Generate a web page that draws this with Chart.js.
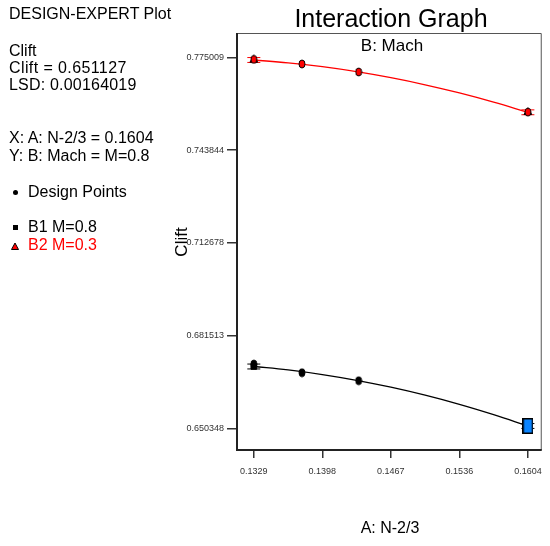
<!DOCTYPE html>
<html><head><meta charset="utf-8">
<script src="https://cdn.jsdelivr.net/npm/chart.js@4.4.0/dist/chart.umd.min.js"></script>
<style>
html,body{margin:0;padding:0;background:#fff;}
#wrap{position:relative;width:550px;height:546px;overflow:hidden;font-family:'Liberation Sans',Arial,sans-serif;color:#000;}
#c{position:absolute;left:0;top:0;}
.t{position:absolute;white-space:nowrap;line-height:1;font-size:16px;}
.ctr{transform:translateX(-50%);}
.sym{position:absolute;}
</style></head><body>
<div id="wrap">
<canvas id="c" width="550" height="546"></canvas>
<div class="t" style="left:9px;top:6px;">DESIGN-EXPERT Plot</div>
<div class="t" style="left:9px;top:42.5px;">Clift</div>
<div class="t" style="left:9px;top:59.5px;letter-spacing:0.4px;">Clift = 0.651127</div>
<div class="t" style="left:9px;top:76.5px;letter-spacing:0.2px;">LSD: 0.00164019</div>
<div class="t" style="left:9px;top:130px;">X: A: N-2/3 = 0.1604</div>
<div class="t" style="left:9px;top:147.5px;">Y: B: Mach = M=0.8</div>
<span class="sym" style="left:13px;top:190px;width:5px;height:5px;border-radius:50%;background:#000;"></span>
<div class="t" style="left:28px;top:184px;">Design Points</div>
<span class="sym" style="left:12.5px;top:225px;width:5px;height:5px;background:#000;"></span>
<div class="t" style="left:28px;top:219px;">B1 M=0.8</div>
<svg class="sym" style="left:11px;top:242px;" width="8" height="8"><polygon points="4,1 7.5,7.5 0.5,7.5" fill="#ff0000" stroke="#000" stroke-width="1"/></svg>
<div class="t" style="left:28px;top:237px;color:#ff0000;">B2 M=0.3</div>
<div class="t ctr" style="left:391px;top:5.5px;font-size:25px;">Interaction Graph</div>
<div class="t ctr" style="left:392px;top:36.5px;font-size:17px;">B: Mach</div>
<div class="t ctr" style="left:390px;top:520px;font-size:16px;">A: N-2/3</div>
<div class="t" style="left:181px;top:242px;font-size:17px;transform:translate(-50%,-50%) rotate(-90deg);">Clift</div>
</div>
<script>
// ---- data ----
// fitted model curves, read at several A positions
const fitA  = [0.1329, 0.13634, 0.13978, 0.14321, 0.14665, 0.15009, 0.15353, 0.15696, 0.1604];
const fitB1 = [0.671113, 0.669947, 0.668398, 0.666466, 0.664148, 0.661460, 0.658379, 0.654918, 0.651127];
const fitB2 = [0.774101, 0.773153, 0.771846, 0.770176, 0.768153, 0.765781, 0.763042, 0.759948, 0.756527];
// design points
const designA  = [0.1329, 0.13773, 0.14342, 0.1604];
const designB1 = [0.67195, 0.66903, 0.66634, 0.651127];
const designB2 = [0.77430, 0.77276, 0.77008, 0.75660];
const lsdValue = 0.00164019;
const currentA = 0.1604;
const currentClift = 0.651127;
const xTickValues = [0.1329, 0.139775, 0.14665, 0.153525, 0.1604];
const xTickLabels = ['0.1329', '0.1398', '0.1467', '0.1536', '0.1604'];
const yTickValues = [0.650348, 0.681513, 0.712678, 0.743844, 0.775009];
const yTickLabels = ['0.650348', '0.681513', '0.712678', '0.743844', '0.775009'];

// ---- marker images ----
function ellipseImg(w, h, fill) {
  const c = document.createElement('canvas');
  c.width = w + 2; c.height = h + 2;
  const g = c.getContext('2d');
  g.beginPath();
  g.ellipse((w + 2) / 2, (h + 2) / 2, w / 2, h / 2, 0, 0, Math.PI * 2);
  g.fillStyle = fill; g.fill();
  g.lineWidth = 1; g.strokeStyle = '#000'; g.stroke();
  return c;
}
function rectImg(w, h, fill) {
  const c = document.createElement('canvas');
  c.width = w; c.height = h;
  const g = c.getContext('2d');
  g.fillStyle = fill; g.fillRect(0, 0, w, h);
  g.lineWidth = 1.5; g.strokeStyle = '#000'; g.strokeRect(0.75, 0.75, w - 1.5, h - 1.5);
  return c;
}
const redDot = ellipseImg(6, 8, '#ff0000');
const blackDot = ellipseImg(6, 8, '#000000');
const blueSq = rectImg(11, 16, '#0a84ff');

const curve = ys => fitA.map((x, i) => ({ x, y: ys[i] }));
const dpts = (ys, idx) => idx.map(i => ({ x: designA[i], y: ys[i] }));
const endIdx = [0, fitA.length - 1];
const lsdPts = (ys, sign) => endIdx.map(i => ({ x: fitA[i], y: ys[i] + sign * lsdValue / 2 }));
const endPts = (ys, idx) => idx.map(i => ({ x: fitA[i], y: ys[i] }));

const boxPlugin = {
  id: 'box',
  afterDraw(chart) {
    const { ctx, chartArea: a } = chart;
    ctx.save();
    ctx.strokeStyle = '#555'; ctx.lineWidth = 1;
    ctx.beginPath();
    ctx.moveTo(a.left, a.top + 0.5); ctx.lineTo(a.right - 0.5, a.top + 0.5); ctx.lineTo(a.right - 0.5, a.bottom);
    ctx.stroke();
    ctx.strokeStyle = '#222'; ctx.lineWidth = 2;
    ctx.beginPath();
    ctx.moveTo(a.left, a.top); ctx.lineTo(a.left, a.bottom); ctx.lineTo(a.right, a.bottom);
    ctx.stroke();
    ctx.restore();
  }
};

new Chart(document.getElementById('c'), {
  type: 'scatter',
  data: {
    datasets: [
      { label: 'B2 line', data: curve(fitB2), showLine: true, borderColor: '#ff0000', borderWidth: 1.3,
        pointRadius: 0, tension: 0.4, order: 10 },
      { label: 'B1 line', data: curve(fitB1), showLine: true, borderColor: '#000000', borderWidth: 1.3,
        pointRadius: 0, tension: 0.4, order: 10 },
      { label: 'B2 LSD+', data: lsdPts(fitB2, 1), pointStyle: 'line', pointRadius: 6.5, borderColor: '#ff0000', borderWidth: 1, order: 9 },
      { label: 'B2 LSD-', data: lsdPts(fitB2, -1), pointStyle: 'line', pointRadius: 6.5, borderColor: '#ff0000', borderWidth: 1, order: 9 },
      { label: 'B1 LSD+', data: lsdPts(fitB1, 1), pointStyle: 'line', pointRadius: 6.5, borderColor: '#000000', borderWidth: 1, order: 9 },
      { label: 'B1 LSD-', data: lsdPts(fitB1, -1), pointStyle: 'line', pointRadius: 6.5, borderColor: '#000000', borderWidth: 1, order: 9 },
      { label: 'B2 M=0.3', data: endPts(fitB2, endIdx), pointStyle: 'triangle', pointRadius: 4.5, backgroundColor: '#ff0000',
        borderColor: '#000', borderWidth: 1, order: 5 },
      { label: 'B1 M=0.8', data: endPts(fitB1, [0]), pointStyle: 'rect', pointRadius: 4, backgroundColor: '#000',
        borderColor: '#000', borderWidth: 1, order: 5 },
      { label: 'Design B2', data: dpts(designB2, [0, 1, 2, 3]), pointStyle: redDot, order: 2 },
      { label: 'Design B1', data: dpts(designB1, [0, 1, 2]), pointStyle: blackDot, order: 2 },
      { label: 'Current', data: [{ x: currentA, y: currentClift }], pointStyle: blueSq, order: 0 }
    ]
  },
  options: {
    responsive: false,
    animation: false,
    devicePixelRatio: 1,
    layout: { padding: { top: 33, right: 5, left: 0, bottom: 0 } },
    plugins: { legend: { display: false }, tooltip: { enabled: false }, title: { display: false } },
    scales: {
      x: {
        type: 'linear', min: 0.131212, max: 0.16179,
        afterBuildTicks: s => { s.ticks = xTickValues.map(v => ({ value: v })); },
        afterFit: s => { s.height = 96; },
        ticks: { autoSkip: false, maxRotation: 0, padding: 8, color: '#333',
          font: { family: "'Liberation Sans', Arial, sans-serif", size: 9 },
          callback: (v, i) => xTickLabels[i] },
        grid: { display: true, drawOnChartArea: false, drawTicks: true, tickLength: 8, color: '#333', lineWidth: 1.5 },
        border: { display: false }
      },
      y: {
        type: 'linear', min: 0.643057, max: 0.783174,
        afterBuildTicks: s => { s.ticks = yTickValues.map(v => ({ value: v })); },
        afterFit: s => { s.width = 237; },
        ticks: { autoSkip: false, padding: 3, color: '#333',
          font: { family: "'Liberation Sans', Arial, sans-serif", size: 9 },
          callback: (v, i) => yTickLabels[i] },
        grid: { display: true, drawOnChartArea: false, drawTicks: true, tickLength: 10, color: '#333', lineWidth: 1.5 },
        border: { display: false }
      }
    }
  },
  plugins: [boxPlugin]
});
</script>
</body></html>
